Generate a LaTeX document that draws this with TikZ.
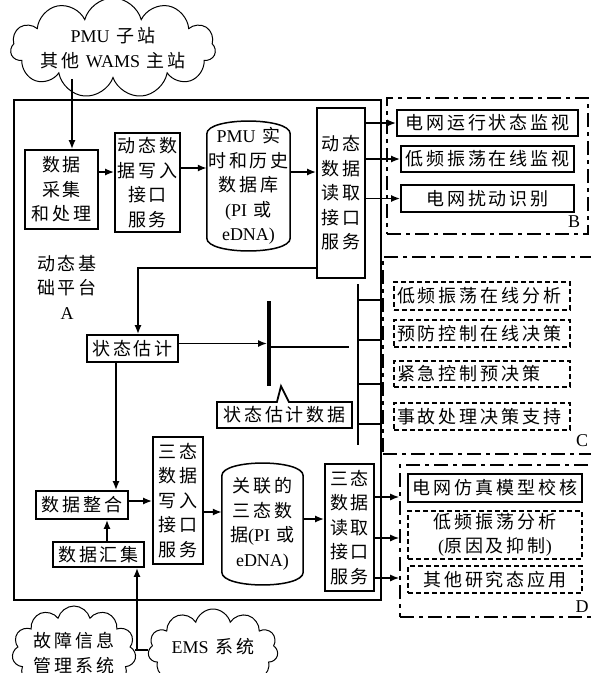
\documentclass[tikz,border=0pt]{standalone}
\usepackage{fontspec}
\setmainfont{Liberation Serif}
\newfontfamily\cjk[LetterSpace=16]{Noto Sans CJK SC}
\usetikzlibrary{arrows.meta,positioning,shapes.symbols,shapes.callouts}

\begin{document}
\begin{tikzpicture}[x=1pt,y=-1pt,>={Latex[length=9pt,width=7pt]},
 tx/.style={font={\cjk\fontsize{18}{24.5}\selectfont},align=center,inner sep=1pt},
 bx/.style={tx,draw,line width=1.8pt},
 cyl/.style={tx,minimum width=83pt},
 dsh/.style={tx,draw,line width=1.4pt,dash pattern=on 5pt off 3pt},
 reg/.style={draw,line width=1.6pt,dash pattern=on 14pt off 5pt on 4pt off 5pt},
 cl/.style={cloud,draw,line width=1pt,cloud puffs=11,cloud ignores aspect,inner sep=0pt},
 lt/.style={font={\rmfamily\fontsize{18}{20}\selectfont},inner sep=1pt},
 a/.style={->,line width=1.5pt},ln/.style={line width=1.5pt}]
 \useasboundingbox (0,0) rectangle (590,673);
 % regions A, B, C, D
 \node[draw,line width=1.6pt,minimum width=367pt,minimum height=500pt] (A) at (197.5,350) {};
 \node[reg,minimum width=201pt,minimum height=136pt] (B) at (487.5,166) {};
 \node[reg,minimum width=217pt,minimum height=197pt] (C) at (491.5,355.5) {};
 \node[reg,minimum width=200pt,minimum height=152pt] (D) at (500,541) {};
 \node[tx] (lblA) at (67,287) {动态基\\础平台\\{\rmfamily A}};
 \node[lt] (lblB) at (574,222) {B};
 \node[lt] (lblC) at (582,441) {C};
 \node[lt] (lblD) at (582,607) {D};
 % dynamic data chain
 \node[cl,minimum width=205pt,minimum height=100pt,
  label={[tx]center:{{\rmfamily PMU} 子站\\其他 {\rmfamily WAMS} 主站}}] (src) at (113,48) {};
 \node[bx,minimum width=73pt,minimum height=79pt] (coll) at (61.5,189.5) {数据\\采集\\和处理};
 \node[bx,minimum width=65pt,minimum height=99pt] (wr1) at (147.5,182.5) {动态数\\据写入\\接口\\服务};
 \node[cyl,minimum height=132pt] (db1) at (248.5,186) {{\rmfamily PMU} 实\\时和历史\\数据库\\{\rmfamily (PI} 或\\{\rmfamily eDNA)}};
 \node[bx,minimum width=48pt,minimum height=170pt] (rd1) at (341,193) {动态\\数据\\读取\\接口\\服务};
 \node[bx,minimum width=181pt,minimum height=26pt] (b1) at (487.5,123) {电网运行状态监视};
 \node[bx,minimum width=173pt,minimum height=26pt] (b2) at (487.5,159) {低频振荡在线监视};
 \node[bx,minimum width=173pt,minimum height=27pt] (b3) at (487.5,198.5) {电网扰动识别};
 % state estimation
 \node[bx,minimum width=91pt,minimum height=27pt] (est) at (132.5,348.5) {状态估计};
 \node[fill,inner sep=0pt,minimum width=3.5pt,minimum height=85pt] (bus) at (269,343.5) {};
 \node[bx,rectangle callout,callout absolute pointer={([xshift=12pt]bus.south)},callout pointer width=12pt,
  minimum width=135pt,minimum height=26pt] (sed) at (284.5,415) {状态估计数据};
 \node[dsh,text width=170pt,inner xsep=3pt,align=left,minimum height=28pt] (c1) at (482,296) {低频振荡在线分析};
 \node[dsh,text width=170pt,inner xsep=3pt,align=left,minimum height=27pt] (c2) at (482,333.5) {预防控制在线决策};
 \node[dsh,text width=170pt,inner xsep=3pt,align=left,minimum height=26pt] (c3) at (482,374) {紧急控制预决策};
 \node[dsh,text width=170pt,inner xsep=3pt,align=left,minimum height=27pt] (c4) at (482,416.5) {事故处理决策支持};
 % three-state data chain
 \node[bx,minimum width=92pt,minimum height=28pt] (merge) at (82,505) {数据整合};
 \node[bx,minimum width=91pt,minimum height=25pt] (gath) at (98.5,554.5) {数据汇集};
 \node[bx,minimum width=50pt,minimum height=127pt] (wr2) at (178,500.5) {三态\\数据\\写入\\接口\\服务};
 \node[cyl,minimum width=81pt,minimum height=124pt] (db2) at (262.5,524) {关联的\\三态数\\据{\rmfamily (PI} 或\\{\rmfamily eDNA)}};
 \node[bx,minimum width=49pt,minimum height=127pt] (rd2) at (349.5,527.5) {三态\\数据\\读取\\接口\\服务};
 \node[bx,minimum width=174pt,minimum height=28pt] (d1) at (495,488) {电网仿真模型校核};
 \node[dsh,minimum width=174pt,minimum height=48pt] (d2) at (495,535) {低频振荡分析\\{\rmfamily (}原因及抑制{\rmfamily )}};
 \node[dsh,minimum width=174pt,minimum height=27pt] (d3) at (495,579.5) {其他研究态应用};
 \node[cl,minimum width=124pt,minimum height=92pt,
  label={[tx,yshift=-1pt]center:{故障信息\\管理系统}}] (flt) at (74,652) {};
 \node[cl,minimum width=130pt,minimum height=82pt,
  label={[tx,yshift=3pt]center:{{\rmfamily EMS} 系统}}] (ems) at (213,650) {};
 % database outlines
 \foreach \n in {db1,db2}
  \draw[ln] ([yshift=-14pt]\n.north west) .. controls ([yshift=3pt]\n.north west) and ([yshift=3pt]\n.north east) .. ([yshift=-14pt]\n.north east)
   -- ([yshift=14pt]\n.south east) .. controls ([yshift=-3pt]\n.south east) and ([yshift=-3pt]\n.south west) .. ([yshift=14pt]\n.south west) -- cycle;
 % connectors
 \draw[a] ([xshift=10.5pt]coll.north |- src.south) -- ([xshift=10.5pt]coll.north);
 \draw[a] ([yshift=17.5pt]coll.east) -- ([yshift=17.5pt]coll.east -| wr1.west);
 \draw[a] ([yshift=14.5pt]wr1.east) -- ([yshift=14.5pt]wr1.east -| db1.west);
 \draw[a] ([yshift=14pt]db1.east) -- ([yshift=14pt]db1.east -| rd1.west);
 \foreach \n in {b1,b2,b3} \draw[a] (rd1.east |- \n.west) -- (\n.west);
 \draw[a] ([yshift=-75pt]rd1.west) -| ([xshift=5.5pt]est.north);
 \draw[a] (est.east |- bus.west) -- (bus.west);
 \coordinate (busEnd) at (349,347);
 \draw[ln] (bus.east |- busEnd) -- (busEnd);
 \coordinate (cTop) at (358,284);
 \coordinate (cBot) at (358,445);
 \draw[ln] (cTop) -- (cBot);
 \foreach \n/\s in {c1/-4,c2/-6.5,c3/-10,c4/-7.5}
  \draw[ln] ([yshift=\s pt]cTop |- \n.west) -- ([yshift=\s pt]C.west |- \n.west);
 \draw[a] ([xshift=-16.5pt]est.south) -- ([xshift=-16.5pt]est.south |- merge.north);
 \draw[a] ([xshift=8.5pt]gath.north) -- ([xshift=8.5pt]gath.north |- merge.south);
 \draw[a] ([yshift=4pt]merge.east) -- ([yshift=4pt]merge.east -| wr2.west);
 \draw[a] ([yshift=-11.5pt]wr2.east) -- ([yshift=-11.5pt]wr2.east -| db2.west);
 \draw[a] ([yshift=5pt]db2.east) -- ([yshift=5pt]db2.east -| rd2.west);
 \foreach \s in {30.5,-10.5,-50.5}
  \draw[a] ([yshift=\s pt]rd2.east) -- ([yshift=\s pt]rd2.east -| D.west);
 \coordinate (jn) at ([xshift=38.5pt]gath.south |- ems.west);
 \draw[ln] (flt.east |- ems.west) -- (ems.west);
 \draw[a] (jn) -- ([xshift=38.5pt]gath.south);
\end{tikzpicture}
\end{document}
